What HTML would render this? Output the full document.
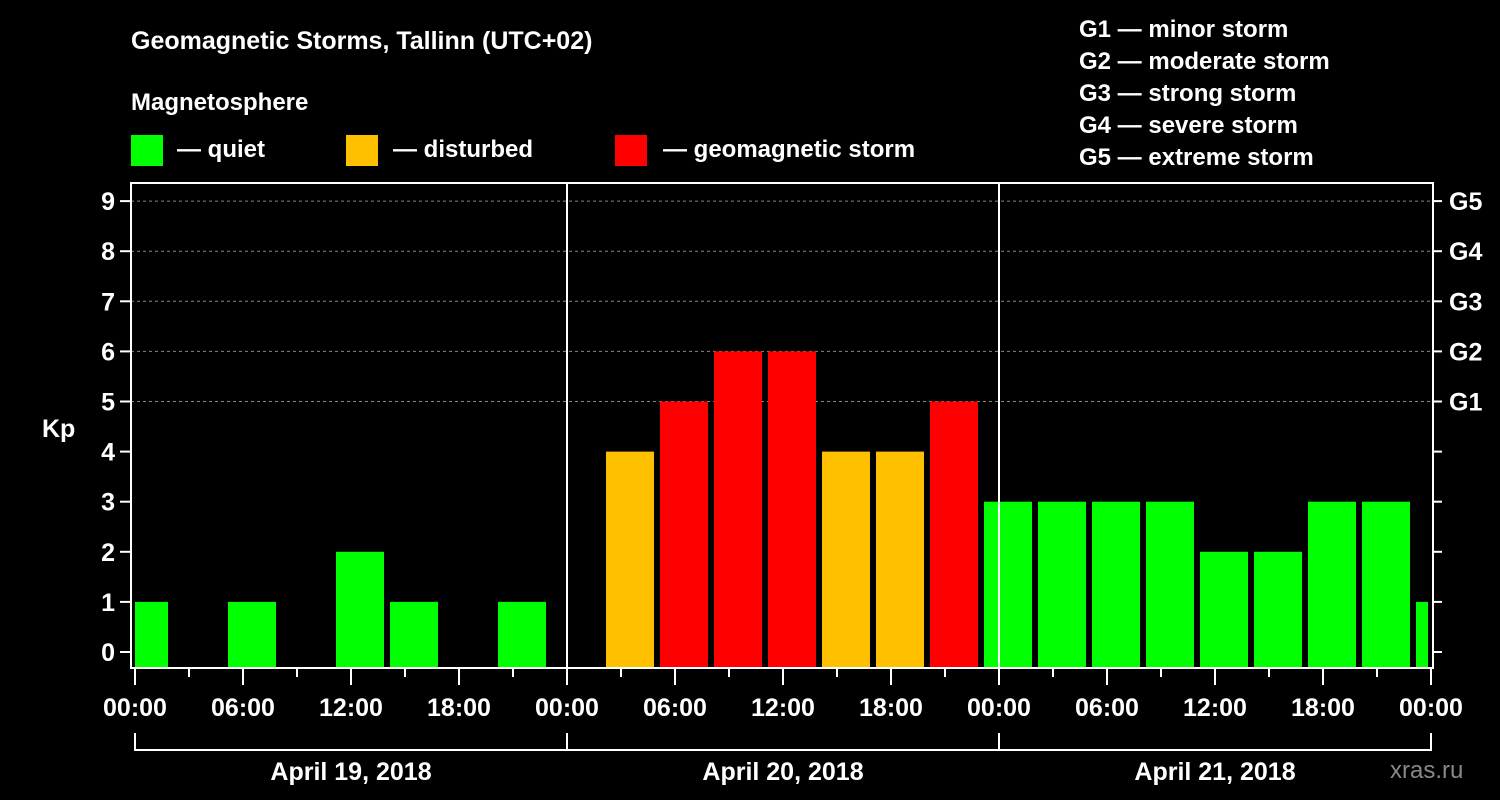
<!DOCTYPE html>
<html><head><meta charset="utf-8"><style>
body{margin:0;background:#000;}
svg{display:block;font-family:"Liberation Sans",Arial,sans-serif;font-weight:bold;}
</style></head><body>
<svg width="1500" height="800" viewBox="0 0 1500 800">
<text x="131" y="49" fill="#fff" font-size="25">Geomagnetic Storms, Tallinn (UTC+02)</text>
<text x="131" y="110" fill="#fff" font-size="24">Magnetosphere</text>
<g><rect x="131" y="135" width="32" height="31" fill="#00ff00"/><text x="177" y="157" fill="#fff" font-size="24">— quiet</text></g>
<g><rect x="346" y="135" width="32" height="31" fill="#ffc000"/><text x="393" y="157" fill="#fff" font-size="24">— disturbed</text></g>
<g><rect x="615" y="135" width="32" height="31" fill="#ff0000"/><text x="663" y="157" fill="#fff" font-size="24">— geomagnetic storm</text></g>
<g fill="#fff" font-size="24">
<text x="1079" y="37">G1 — minor storm</text>
<text x="1079" y="69">G2 — moderate storm</text>
<text x="1079" y="101">G3 — strong storm</text>
<text x="1079" y="133">G4 — severe storm</text>
<text x="1079" y="165">G5 — extreme storm</text>
</g>
<text x="42" y="437" fill="#fff" font-size="25">Kp</text>
<text x="1390" y="778" fill="#888" font-size="24" font-weight="normal">xras.ru</text>
<g id="grid"></g>
<g id="bars"></g>
<g id="axes"></g>
</svg>
<script>
const hours=[0.5,6.5,12.5,15.5,21.5,27.5,30.5,33.5,36.5,39.5,42.5,45.5,48.5,51.5,54.5,57.5,60.5,63.5,66.5,69.5,72.5];
const kp=[1,1,2,1,1,4,5,6,6,4,4,5,3,3,3,3,2,2,3,3,1];
const yTicks=[0,1,2,3,4,5,6,7,8,9];
const gLabels=["G1","G2","G3","G4","G5"];
const dayLabels=["April 19, 2018","April 20, 2018","April 21, 2018"];
const xLabels=["00:00","06:00","12:00","18:00"];
const NS="http://www.w3.org/2000/svg";
const X0=135,PXH=18,Y0=652,PXK=50.1,L=131,R=1433,T=183,B=668;
const xs=h=>X0+h*PXH, ys=k=>Y0-k*PXK;
function mk(p,tag,a){const e=document.createElementNS(NS,tag);for(const k in a)e.setAttribute(k,a[k]);p.appendChild(e);return e;}
const grid=document.getElementById('grid'),bars=document.getElementById('bars'),ax=document.getElementById('axes');
for(let k=5;k<=9;k++){const l=mk(grid,'line',{x1:L,x2:R,y1:ys(k),y2:ys(k),stroke:'#888','stroke-dasharray':'3,3','stroke-width':1});

}
hours.forEach((h,i)=>{const v=kp[i];const c=v>=5?'#ff0000':v==4?'#ffc000':'#00ff00';
let x1=Math.max(xs(h)-24,L+4),x2=Math.min(xs(h)+24,R-5);
const r=mk(bars,'rect',{x:x1,y:ys(v),width:x2-x1,height:B-ys(v),fill:c});

});
mk(ax,'rect',{x:L,y:T,width:R-L,height:B-T,fill:'none',stroke:'#fff','stroke-width':2});
[24,48].forEach(h=>mk(ax,'line',{x1:xs(h),x2:xs(h),y1:T,y2:B,stroke:'#fff','stroke-width':2}));
yTicks.forEach(k=>{mk(ax,'line',{x1:L-11,x2:L,y1:ys(k),y2:ys(k),stroke:'#fff','stroke-width':2});
mk(ax,'line',{x1:R,x2:R+9,y1:ys(k),y2:ys(k),stroke:'#fff','stroke-width':2});
const t=mk(ax,'text',{x:L-16,y:ys(k)+9,fill:'#fff','font-size':25,'text-anchor':'end'});t.textContent=k;

});
gLabels.forEach((g,i)=>{const t=mk(ax,'text',{x:1449,y:ys(i+5)+9,fill:'#fff','font-size':25});t.textContent=g;

});
for(let h=0;h<=72;h+=3){const major=h%6==0;mk(ax,'line',{x1:xs(h),x2:xs(h),y1:B,y2:B+(major?17:9),stroke:'#fff','stroke-width':2});
if(major){const t=mk(ax,'text',{x:xs(h),y:716,fill:'#fff','font-size':25,'text-anchor':'middle'});t.textContent=xLabels[(h/6)%4];

}}
dayLabels.forEach((d,i)=>{const a=xs(i*24),b=xs(i*24+24);
mk(ax,'polyline',{points:`${a},733 ${a},750 ${b},750 ${b},733`,fill:'none',stroke:'#fff','stroke-width':2});
const t=mk(ax,'text',{x:(a+b)/2,y:780,fill:'#fff','font-size':25,'text-anchor':'middle'});t.textContent=d;

});
</script>
</body></html>
